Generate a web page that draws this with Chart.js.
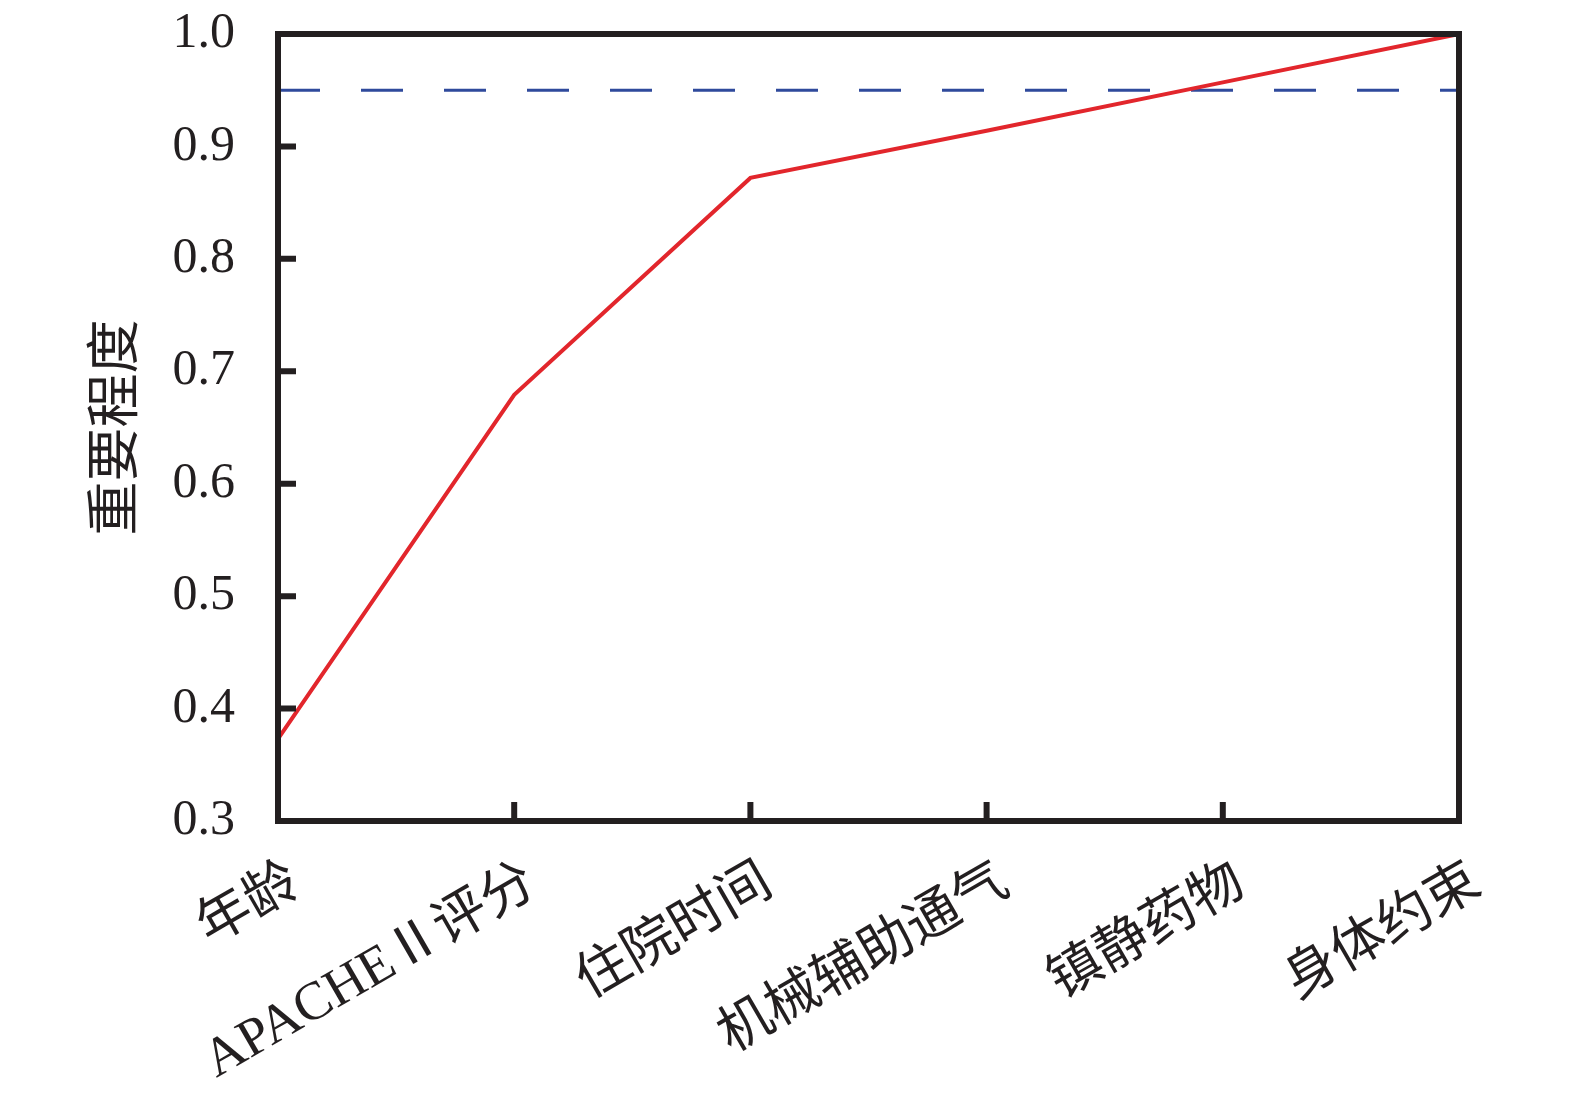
<!DOCTYPE html>
<html>
<head>
<meta charset="utf-8">
<script src="https://cdn.jsdelivr.net/npm/chart.js@4.4.1/dist/chart.umd.min.js"></script>
<style>
html,body{margin:0;padding:0;background:#fff;}
#wrap{width:1575px;height:1104px;}
</style>
</head>
<body>
<div id="wrap"><canvas id="c" width="1575" height="1104"></canvas></div>
<script>
const categories = ['年龄', 'APACHEⅡ评分', '住院时间', '机械辅助通气', '镇静药物', '身体约束'];
const importance = [0.373, 0.679, 0.872, 0.914, 0.957, 1.0];
const threshold = [0.95, 0.95, 0.95, 0.95, 0.95, 0.95];
const yTicks = [0.3, 0.4, 0.5, 0.6, 0.7, 0.8, 0.9, 1.0];
const yTitle = '重要程度';

const INK = '#231f20';
const latinCjk = "'Liberation Serif', 'Noto Sans CJK SC', serif";

const framePlugin = {
  id: 'frame',
  afterDatasetsDraw(chart) {
    const ctx = chart.ctx;
    const a = chart.chartArea;
    const xs = chart.scales.x, ys = chart.scales.y;
    ctx.save();
    ctx.strokeStyle = INK;
    ctx.lineWidth = 6;
    ctx.lineCap = 'butt';
    ctx.beginPath();
    for (let i = 1; i < yTicks.length - 1; i++) {
      const p = ys.getPixelForValue(yTicks[i]);
      ctx.moveTo(a.left, p);
      ctx.lineTo(a.left + 18, p);
    }
    for (let i = 1; i < categories.length - 1; i++) {
      const p = xs.getPixelForTick(i);
      ctx.moveTo(p, a.bottom);
      ctx.lineTo(p, a.bottom - 19);
    }
    ctx.stroke();
    ctx.lineJoin = 'miter';
    ctx.strokeRect(a.left, a.top, a.right - a.left, a.bottom - a.top);
    ctx.restore();
  }
};

new Chart(document.getElementById('c'), {
  type: 'line',
  data: {
    labels: categories,
    datasets: [
      {
        data: importance,
        borderColor: '#e2262c',
        borderWidth: 4,
        pointRadius: 0,
        tension: 0,
        fill: false,
        order: 1
      },
      {
        data: threshold,
        borderColor: '#2f4a9c',
        borderWidth: 3,
        borderDash: [42, 41],
        pointRadius: 0,
        tension: 0,
        fill: false,
        order: 2
      }
    ]
  },
  options: {
    responsive: false,
    devicePixelRatio: 1,
    animation: false,
    layout: { autoPadding: false, padding: { top: 34, right: 116, left: 0, bottom: 0 } },
    plugins: { legend: { display: false }, tooltip: { enabled: false } },
    scales: {
      x: {
        type: 'category',
        offset: false,
        grid: { display: false, drawTicks: true, tickLength: 30 },
        border: { display: false },
        ticks: {
          autoSkip: false,
          minRotation: 30,
          maxRotation: 30,
          labelOffset: 18,
          padding: 0,
          color: INK,
          font: { family: latinCjk, size: 54 }
        },
        afterFit(s) { s.height = 1104 - 821; }
      },
      y: {
        min: 0.3,
        max: 1.0,
        grid: { display: false, drawTicks: true, tickLength: 43 },
        border: { display: false },
        afterBuildTicks(s) { s.ticks = yTicks.map(v => ({ value: v })); },
        ticks: {
          padding: 0,
          color: INK,
          font: { family: "'Liberation Serif', serif", size: 50 },
          callback: v => Number(v).toFixed(1)
        },
        title: {
          display: true,
          text: yTitle,
          color: INK,
          padding: { top: 86, bottom: 0 },
          font: { family: latinCjk, size: 54 }
        },
        afterFit(s) { s.width = 278; }
      }
    }
  },
  plugins: [framePlugin]
});
</script>
</body>
</html>
